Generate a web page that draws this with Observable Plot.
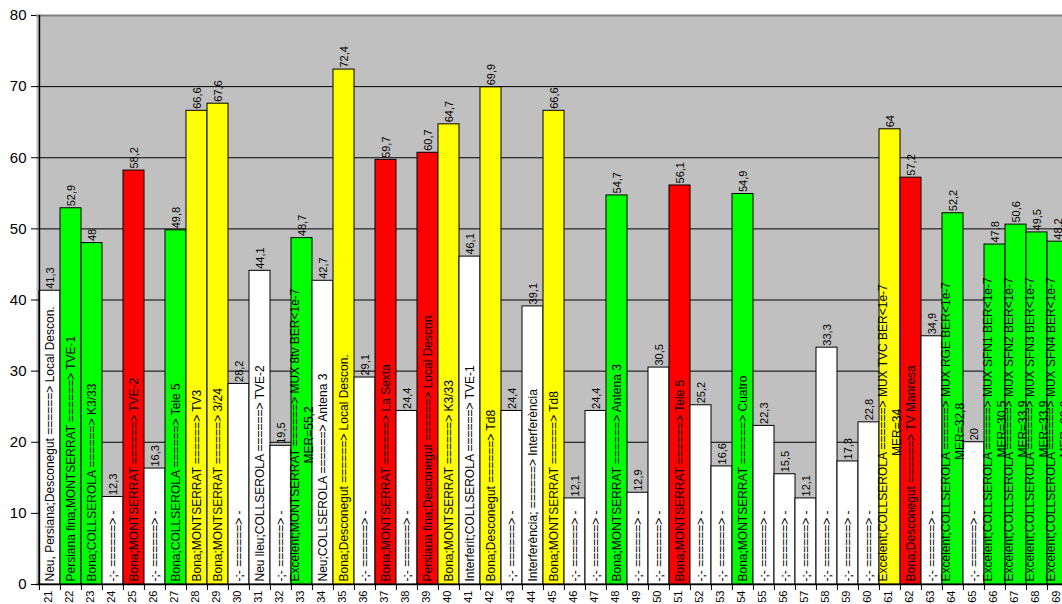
<!DOCTYPE html>
<html><head><meta charset="utf-8">
<script src="https://cdn.jsdelivr.net/npm/d3@7"></script>
<script src="https://cdn.jsdelivr.net/npm/@observablehq/plot@0.6"></script>
<style>
html,body{margin:0;padding:0;overflow:hidden;background:#fff;width:1062px;height:604px}
#chart{width:1062px;height:604px;overflow:hidden}
#chart svg{max-width:none !important;}
</style>
</head><body><div id="chart"></div>
<script>
const channels = [21,22,23,24,25,26,27,28,29,30,31,32,33,34,35,36,37,38,39,40,41,42,43,44,45,46,47,48,49,50,51,52,53,54,55,56,57,58,59,60,61,62,63,64,65,66,67,68,69];
const values = [41.3,52.9,48,12.3,58.2,16.3,49.8,66.6,67.6,28.2,44.1,19.5,48.7,42.7,72.4,29.1,59.7,24.4,60.7,64.7,46.1,69.9,24.4,39.1,66.6,12.1,24.4,54.7,12.9,30.5,56.1,25.2,16.6,54.9,22.3,15.5,12.1,33.3,17.3,22.8,64,57.2,34.9,52.2,20,47.8,50.6,49.5,48.2];
const quality = ["white","green","green","white","red","white","green","yellow","yellow","white","white","white","green","white","yellow","white","red","white","red","yellow","white","yellow","white","white","yellow","white","white","green","white","white","red","white","white","green","white","white","white","white","white","white","yellow","red","white","green","white","green","green","green","green"];
const labelLine1 = [
"Neu, Persiana;Desconegut ======> Local Descon.",
"Persiana fina;MONTSERRAT ======> TVE-1",
"Bona;COLLSEROLA ======> K3/33",
"-;- ======> -",
"Bona;MONTSERRAT ======> TVE-2",
"-;- ======> -",
"Bona;COLLSEROLA ======> Tele 5",
"Bona;MONTSERRAT ======> TV3",
"Bona;MONTSERRAT ======> 3/24",
"-;- ======> -",
"Neu lleu;COLLSEROLA ======> TVE-2",
"-;- ======> -",
"Excelent;MONTSERRAT ======> MUX 8tv BER<1e-7",
"Neu;COLLSEROLA ======> Antena 3",
"Bona;Desconegut ======> Local Descon.",
"-;- ======> -",
"Bona;MONTSERRAT ======> La Sexta",
"-;- ======> -",
"Persiana fina;Desconegut ======> Local Descon.",
"Bona;MONTSERRAT ======> K3/33",
"Interferit;COLLSEROLA ======> TVE-1",
"Bona;Desconegut ======> Td8",
"-;- ======> -",
"Interferència; ======> Interferència",
"Bona;MONTSERRAT ======> Td8",
"-;- ======> -",
"-;- ======> -",
"Bona;MONTSERRAT ======> Antena 3",
"-;- ======> -",
"-;- ======> -",
"Bona;MONTSERRAT ======> Tele 5",
"-;- ======> -",
"-;- ======> -",
"Bona;MONTSERRAT ======> Cuatro",
"-;- ======> -",
"-;- ======> -",
"-;- ======> -",
"-;- ======> -",
"-;- ======> -",
"-;- ======> -",
"Excelent;COLLSEROLA ======> MUX TVC BER<1e-7",
"Bona;Desconegut ======> TV Manresa",
"-;- ======> -",
"Excelent;COLLSEROLA ======> MUX RGE BER<1e-7",
"-;- ======> -",
"Excelent;COLLSEROLA ======> MUX SFN1 BER<1e-7",
"Excelent;COLLSEROLA ======> MUX SFN2 BER<1e-7",
"Excelent;COLLSEROLA ======> MUX SFN3 BER<1e-7",
"Excelent;COLLSEROLA ======> MUX SFN4 BER<1e-7"
];
const labelLine2 = ["","","","","","","","","","","","","MER=55,2","","","","","","","","","","","","","","","","","","","","","","","","","","","","MER=34","","","MER=32,8","","MER=30,5","MER=33,9","MER=33,9","MER=33,8"];
const yTicks = [0,10,20,30,40,50,60,70,80];
const palette = {white:"#ffffff", green:"#00ff00", red:"#ff0000", yellow:"#ffff00"};

const W = 1070, H = 640, ML = 36, MR = 0, MT = 15, MB = 56;
const bw = (W - ML - MR) / channels.length;
const pxPerUnit = (H - MT - MB) / (yTicks[yTicks.length-1] - yTicks[0]);
const FONT = "'Liberation Sans', Arial, sans-serif";
const ctx = document.createElement("canvas").getContext("2d");
ctx.font = "12px 'Liberation Sans'";

const data = channels.map((ch, i) => ({
  ch, v: values[i], fill: palette[quality[i]],
  l1: labelLine1[i], l2: labelLine2[i],
  vl: String(values[i]).replace(".", ","),
  mid: (ctx.measureText(labelLine1[i]).width / 2 + 3) / pxPerUnit
}));
const single = data.filter(d => !d.l2);
const double = data.filter(d => d.l2);

const chart = Plot.plot({
  width: W, height: H,
  marginLeft: ML, marginRight: MR, marginTop: MT, marginBottom: MB,
  style: {fontFamily: FONT, background: "#fff", color: "#000", maxWidth: "none"},
  x: {domain: channels, padding: 0, label: null},
  y: {domain: [0, 80], label: null},
  color: {type: "identity"},
  marks: [
    Plot.frame({fill: "#c0c0c0", stroke: "none"}),
    Plot.ruleY(yTicks.slice(1, -1), {stroke: "#000", strokeWidth: 1}),
    Plot.ruleY([80], {stroke: "#808080", strokeWidth: 2}),
    Plot.barY(data, {x: "ch", y: "v", fill: "fill", stroke: "#000", strokeWidth: 1}),
    Plot.ruleY([0], {stroke: "#000", strokeWidth: 1.5}),
    Plot.ruleX([channels[0]], {y1: 0, y2: 80, dx: -bw / 2, stroke: "#000", strokeWidth: 1.5}),
    Plot.axisY({ticks: yTicks, tickSize: 5, tickPadding: 5, fontSize: 15, label: null, stroke: "#000"}),
    Plot.axisX({tickSize: 6, tickFormat: () => "", dx: -bw / 2, label: null}),
    Plot.axisX({tickSize: 0, tickRotate: -90, tickPadding: 6, fontSize: 11, label: null, dx: -2}),
    Plot.text(single, {x: "ch", y: 0, text: "l1", rotate: -90, textAnchor: "start", dy: -3, fontSize: 12, fill: "#000"}),
    Plot.text(double, {x: "ch", y: 0, text: "l1", rotate: -90, textAnchor: "start", dy: -3, dx: -7, fontSize: 12, fill: "#000"}),
    Plot.text(double, {x: "ch", y: "mid", text: "l2", rotate: -90, textAnchor: "middle", dx: 7, fontSize: 12, fill: "#000"}),
    Plot.text(data, {x: "ch", y: "v", text: "vl", rotate: -90, textAnchor: "start", dy: -2, fontSize: 11, fill: "#000"})
  ]
});
document.getElementById("chart").appendChild(chart);
</script>
</body></html>
